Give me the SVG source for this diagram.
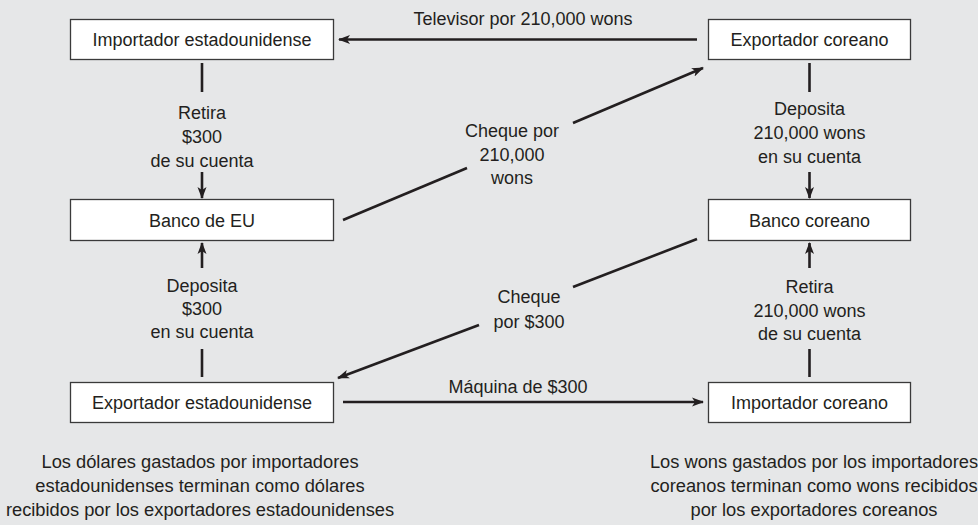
<svg xmlns="http://www.w3.org/2000/svg" width="978" height="525" viewBox="0 0 978 525">
<defs>
<marker id="ah" viewBox="0 0 12 10" markerWidth="12" markerHeight="10" refX="11" refY="5" orient="auto" markerUnits="userSpaceOnUse">
<path d="M0,0.5 L12,5 L0,9.5 L3,5 Z" fill="#231f20"/>
</marker>
<style>
text{font-family:"Liberation Sans",Arial,sans-serif;font-size:18px;fill:#231f20;text-anchor:middle}
.box{fill:#ffffff;stroke:#3a3a3a;stroke-width:1.3}
.ln{stroke:#231f20;stroke-width:2.6;fill:none}
.ar{stroke:#231f20;stroke-width:2.6;fill:none;marker-end:url(#ah)}
.note{font-size:18.3px}
</style>
</defs>
<rect width="978" height="525" fill="#e6e7e8"/>

<g id="importador-eu"><rect class="box" x="70.5" y="19.5" width="263" height="40"/><text x="202" y="45.5">Importador estadounidense</text></g>
<g id="exportador-coreano"><rect class="box" x="708.5" y="19.5" width="202" height="40"/><text x="809.5" y="45.5">Exportador coreano</text></g>
<g id="banco-eu"><rect class="box" x="70.5" y="199.5" width="263" height="41"/><text x="202" y="226.5">Banco de EU</text></g>
<g id="banco-coreano"><rect class="box" x="708.5" y="199.5" width="202" height="41"/><text x="809.5" y="226.5">Banco coreano</text></g>
<g id="exportador-eu"><rect class="box" x="70.5" y="382.5" width="263" height="40"/><text x="202" y="408.5">Exportador estadounidense</text></g>
<g id="importador-coreano"><rect class="box" x="708.5" y="382.5" width="202" height="40"/><text x="809.5" y="408.5">Importador coreano</text></g>

<g id="connectors">
<line class="ar" x1="697" y1="39.5" x2="339" y2="39.5"/>
<text x="523" y="25">Televisor por 210,000 wons</text>

<line class="ln" x1="202" y1="63" x2="202" y2="92"/>
<line class="ar" x1="202" y1="172" x2="202" y2="198"/>
<text x="202" y="119">Retira</text>
<text x="202" y="143">$300</text>
<text x="202" y="167">de su cuenta</text>

<line class="ln" x1="809.5" y1="63" x2="809.5" y2="92"/>
<line class="ar" x1="809.5" y1="172" x2="809.5" y2="198"/>
<text x="809.5" y="115">Deposita</text>
<text x="809.5" y="139">210,000 wons</text>
<text x="809.5" y="163">en su cuenta</text>

<line class="ln" x1="343" y1="220" x2="467" y2="168"/>
<line class="ar" x1="573" y1="123" x2="703" y2="68"/>
<text x="512" y="137">Cheque por</text>
<text x="512" y="161">210,000</text>
<text x="512" y="184">wons</text>

<line class="ln" x1="697" y1="239" x2="573" y2="287"/>
<line class="ar" x1="479" y1="325" x2="338" y2="378"/>
<text x="529" y="303">Cheque</text>
<text x="529" y="328">por $300</text>

<line class="ar" x1="202" y1="268" x2="202" y2="243"/>
<line class="ln" x1="202" y1="349" x2="202" y2="377"/>
<text x="202" y="292">Deposita</text>
<text x="202" y="315">$300</text>
<text x="202" y="338">en su cuenta</text>

<line class="ar" x1="809.5" y1="268" x2="809.5" y2="243"/>
<line class="ln" x1="809.5" y1="349" x2="809.5" y2="377"/>
<text x="809.5" y="293">Retira</text>
<text x="809.5" y="317">210,000 wons</text>
<text x="809.5" y="340">de su cuenta</text>

<line class="ar" x1="343" y1="402" x2="703" y2="402"/>
<text x="518" y="393">Máquina de $300</text>
</g>

<g id="nota-eu">
<text class="note" x="200" y="468">Los dólares gastados por importadores</text>
<text class="note" x="200" y="492">estadounidenses terminan como dólares</text>
<text class="note" x="200" y="516">recibidos por los exportadores estadounidenses</text>
</g>
<g id="nota-corea">
<text class="note" x="814" y="468">Los wons gastados por los importadores</text>
<text class="note" x="814" y="492">coreanos terminan como wons recibidos</text>
<text class="note" x="814" y="516">por los exportadores coreanos</text>
</g>
</svg>
